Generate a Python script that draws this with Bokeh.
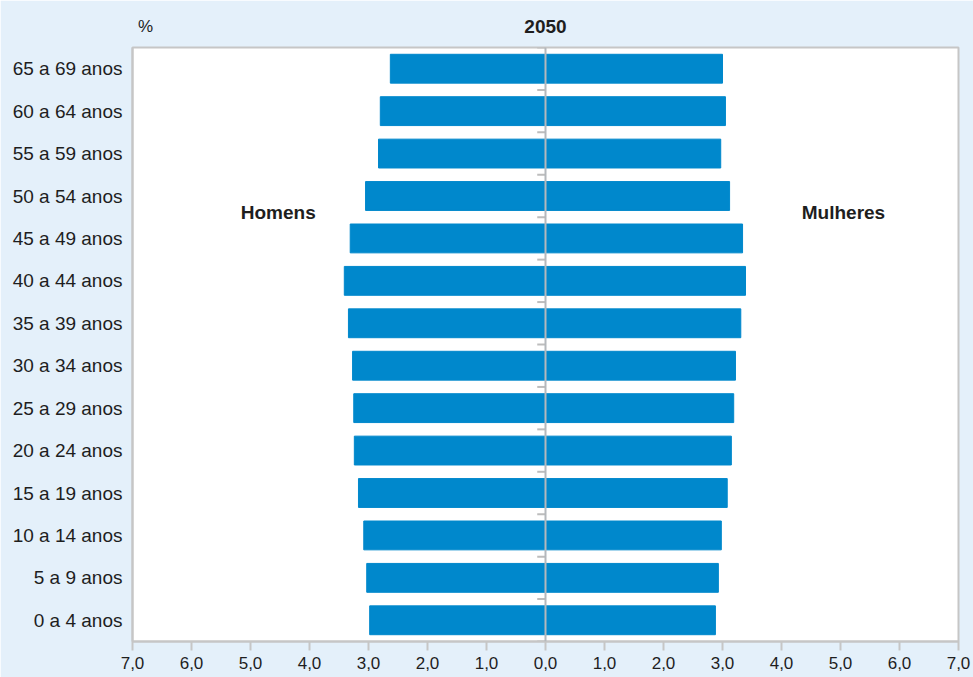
from bokeh.plotting import figure
from bokeh.models import FactorRange, Range1d, Span, CustomJSTickFormatter, FixedTicker, LinearAxis
from bokeh.embed import file_html
from bokeh.resources import INLINE
from bokeh.core.properties import value

categories = ["0 a 4 anos", "5 a 9 anos", "10 a 14 anos", "15 a 19 anos", "20 a 24 anos",
              "25 a 29 anos", "30 a 34 anos", "35 a 39 anos", "40 a 44 anos", "45 a 49 anos",
              "50 a 54 anos", "55 a 59 anos", "60 a 64 anos", "65 a 69 anos"]
homens = [2.98, 3.03, 3.08, 3.17, 3.24, 3.25, 3.27, 3.34, 3.41, 3.31, 3.05, 2.83, 2.80, 2.63]
mulheres = [2.88, 2.93, 2.98, 3.08, 3.15, 3.19, 3.22, 3.31, 3.39, 3.34, 3.12, 2.97, 3.05, 3.00]
x_ticks = [-7, -6, -5, -4, -3, -2, -1, 0, 1, 2, 3, 4, 5, 6, 7]
title_text = "2050"
unit_text = "%"

FONT = "Liberation Sans"
TXT = "#1e1e1e"
BG = "#e4f0fa"
BAR = "#0088cc"
GRAY = "#c6c6c6"

p = figure(width=973, height=677, output_backend="svg", toolbar_location=None,
           x_range=Range1d(-7, 7), y_range=FactorRange(*categories, range_padding=0),
           min_border_left=132, min_border_right=15, min_border_top=47, min_border_bottom=36)
p.border_fill_color = BG
p.background_fill_color = "white"
p.outline_line_color = GRAY
p.outline_line_width = 2
p.xgrid.visible = False
p.ygrid.visible = False

p.hbar(y=categories, left=[-h for h in homens], right=0, height=0.68, color=BAR)
p.hbar(y=categories, left=0, right=mulheres, height=0.68, color=BAR)

p.add_layout(Span(location=0, dimension="height", line_color="#b4b8bc", line_width=2))

bounds = [(c, -0.5) for c in categories] + [(categories[-1], 0.5)]
p.segment(x0=[-0.14] * len(bounds), x1=[0] * len(bounds), y0=bounds, y1=bounds,
          line_color="#bdbdbd", line_width=2)

p.text(x=[-4.53, 5.05], y=[("50 a 54 anos", -0.4), ("50 a 54 anos", -0.4)],
       text=["Homens", "Mulheres"], text_align="center", text_baseline="middle",
       text_font=value(FONT), text_font_style="bold", text_font_size="19px", text_color=TXT)

# top axis carrying the "%" unit mark and the "2050" heading
top = LinearAxis(ticker=FixedTicker(ticks=[-6.78]), major_label_overrides={-6.78: unit_text},
                 axis_label=title_text)
top.axis_line_color = None
top.major_tick_line_color = None
top.minor_tick_line_color = None
top.major_tick_out = 0
top.major_tick_in = 0
top.major_label_standoff = 12
top.major_label_text_font = FONT
top.major_label_text_font_size = "17px"
top.major_label_text_color = TXT
top.axis_label_text_font = FONT
top.axis_label_text_font_size = "19px"
top.axis_label_text_font_style = "bold"
top.axis_label_text_color = TXT
top.axis_label_standoff = -19
p.add_layout(top, "above")

xa = p.below[0]
xa.ticker = FixedTicker(ticks=x_ticks)
xa.formatter = CustomJSTickFormatter(code="return Math.abs(tick).toFixed(1).replace('.', ',');")
xa.axis_line_color = GRAY
xa.axis_line_width = 2
xa.major_tick_line_color = GRAY
xa.major_tick_line_width = 2
xa.major_tick_out = 9
xa.major_tick_in = 0
xa.minor_tick_line_color = None
xa.major_label_standoff = 6
xa.major_label_text_font = FONT
xa.major_label_text_font_size = "17px"
xa.major_label_text_color = TXT

ya = p.left[0]
ya.axis_line_color = GRAY
ya.axis_line_width = 2
ya.major_tick_line_color = None
ya.minor_tick_line_color = None
ya.major_tick_out = 0
ya.major_label_standoff = 10
ya.major_label_text_font = FONT
ya.major_label_text_font_size = "19px"
ya.major_label_text_color = TXT

open("out.html", "w").write(file_html(p, INLINE, title=title_text))
